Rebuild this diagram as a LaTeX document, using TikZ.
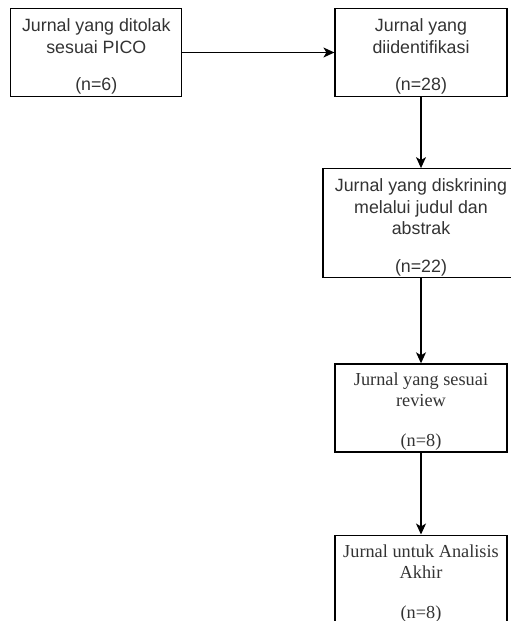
\documentclass[tikz,border=0pt]{standalone}
\usepackage{fontspec}
\usepackage{tikz}
\usetikzlibrary{positioning, arrows.meta}
\newfontfamily\sansfont{Liberation Sans}
\newfontfamily\seriffont{Liberation Serif}
\newcommand{\ruangatas}{\rule{0pt}{21pt}}
\begin{document}
\begin{tikzpicture}[x=1pt, y=-1pt,
		kotak/.style={rectangle, draw, line width=1.2pt, minimum width=172pt, minimum height=88pt, align=center, text=black!80, inner sep=0.5pt},
		kotaksans/.style={kotak, font=\sansfont\fontsize{17.8}{21.5}\selectfont},
		kotakserif/.style={kotak, font=\seriffont\fontsize{18.3}{21}\selectfont},
		panah/.style={line width=1.2pt, -{Stealth[length=11pt, width=10pt, inset=3pt]}}]
	\useasboundingbox (0,0) rectangle (511,621);
	
	% Jurnal awal
	\node[kotaksans] (identifikasi) at (421,52.5) {\ruangatas Jurnal yang\\diidentifikasi\\[16pt](n=28)};
	\node[kotaksans, left=152pt of identifikasi, minimum width=171pt] (ditolak) {\ruangatas Jurnal yang ditolak\\sesuai PICO\\[16pt](n=6)};
	
	% Skrining
	\node[kotaksans, below=71pt of identifikasi, minimum width=196pt, minimum height=109pt] (skrining) {\ruangatas Jurnal yang diskrining\\melalui judul dan\\abstrak\\[16pt](n=22)};
	
	% Review dan analisis
	\node[kotakserif, below=85pt of skrining] (review) {\ruangatas Jurnal yang sesuai\\review\\[19pt](n=8)};
	\node[kotakserif, below=82pt of review] (analisis) {\ruangatas Jurnal untuk Analisis\\Akhir\\[19pt](n=8)};
	
	\draw[panah] (ditolak) -- (identifikasi);
	\draw[panah] (identifikasi) -- (skrining);
	\draw[panah] (skrining) -- (review);
	\draw[panah] (review) -- (analisis);
\end{tikzpicture}
\end{document}
